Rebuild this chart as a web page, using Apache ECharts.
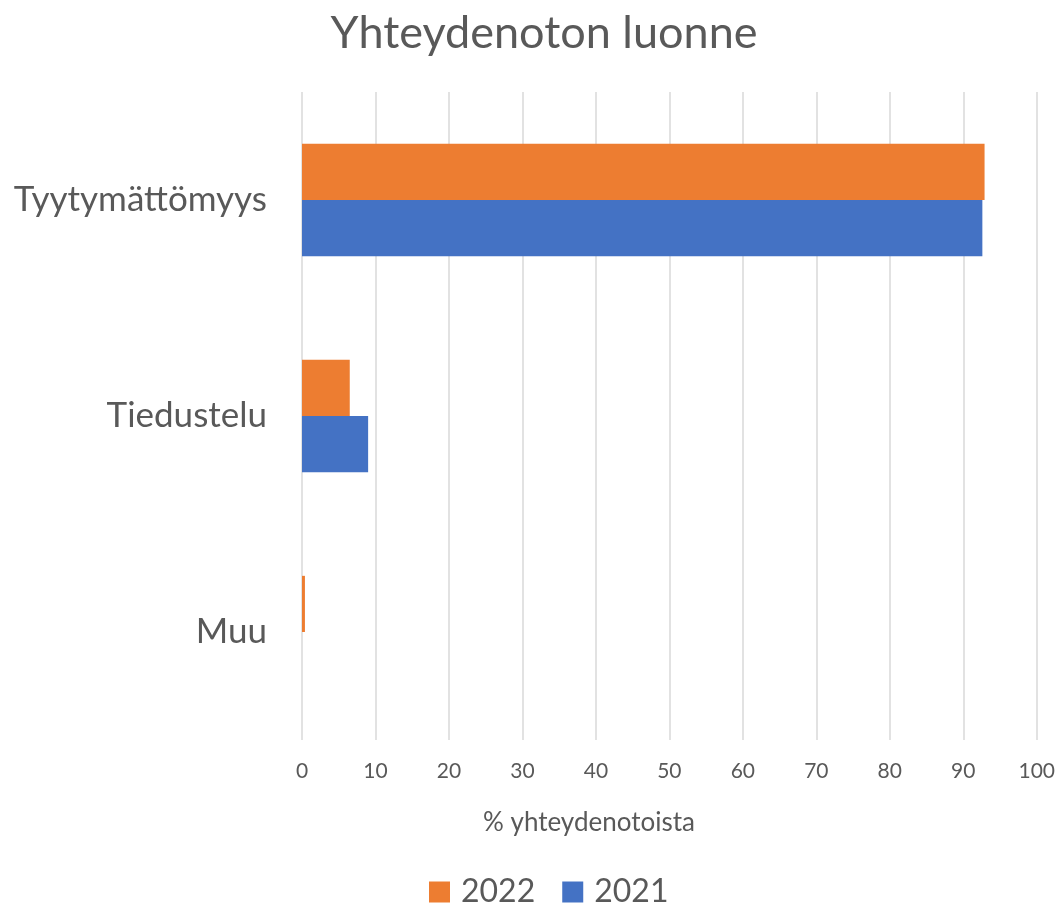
<!DOCTYPE html>
<html><head><meta charset="utf-8">
<script src="https://cdn.jsdelivr.net/npm/echarts@6/dist/echarts.min.js"></script>
<style>html,body{margin:0;padding:0;background:#fff}#c{width:1058px;height:906px}</style>
</head><body><div id="c"></div>
<script>
const categories = ['Tyytymättömyys', 'Tiedustelu', 'Muu'];
const values2022 = [92.9, 6.5, 0.4];
const values2021 = [92.6, 9.0, 0];
const seriesNames = ['2022', '2021'];
const xTicks = [0, 10, 20, 30, 40, 50, 60, 70, 80, 90, 100];

const font = 'Lato, "Open Sans", sans-serif';
const txt = '#595959';
const chart = echarts.init(document.getElementById('c'), null, {renderer: 'canvas'});
chart.setOption({
  animation: false,
  color: ['#ED7D31', '#4472C4'],
  title: {
    text: 'Yhteydenoton luonne', left: 539, top: 6, textAlign: 'center',
    textStyle: {fontFamily: font, fontSize: 45, fontWeight: 'normal', color: txt}
  },
  legend: {
    data: seriesNames, left: 429, top: 876, padding: 0, itemWidth: 21, itemHeight: 21, itemGap: 27,
    icon: 'rect', textStyle: {fontFamily: font, fontSize: 32, color: txt, padding: [0, 0, 0, 6]}
  },
  grid: {left: 302, right: 20, top: 92, bottom: 166, containLabel: false},
  xAxis: {
    type: 'value', min: xTicks[0], max: xTicks[xTicks.length - 1], interval: 10,
    axisLine: {show: false}, axisTick: {show: false},
    splitLine: {lineStyle: {color: '#d9d9d9', width: 1.5}},
    axisLabel: {fontFamily: font, fontSize: 21, color: txt, margin: 21}
  },
  yAxis: {
    type: 'category', data: categories, inverse: true,
    axisLine: {show: false}, axisTick: {show: false},
    axisLabel: {fontFamily: font, fontSize: 35, color: txt, margin: 35}
  },
  series: [
    {name: seriesNames[0], type: 'bar', data: values2022, barGap: '0%', barCategoryGap: '48%'},
    {name: seriesNames[1], type: 'bar', data: values2021, barGap: '0%', barCategoryGap: '48%'}
  ],
  graphic: [{
    type: 'text', left: 483, top: 810,
    style: {text: '% yhteydenotoista', fontFamily: font, fontSize: 26, fill: txt}
  }]
});
</script></body></html>
